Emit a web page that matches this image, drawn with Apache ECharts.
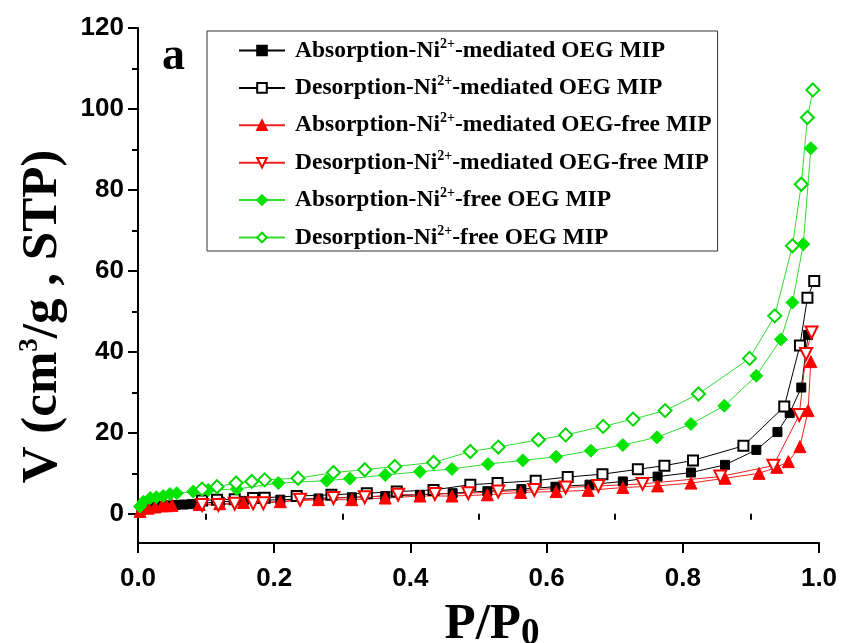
<!DOCTYPE html>
<html>
<head>
<meta charset="utf-8">
<script src="https://cdn.jsdelivr.net/npm/echarts@6/dist/echarts.min.js"></script>
<style>
  html, body { margin: 0; padding: 0; background: #fff; }
  #chart { width: 843px; height: 643px; }
</style>
</head>
<body>
<div id="chart"></div>
<script>
// series names (legend text), Ni2+ gets a superscript in the legend formatter
const seriesNames = [
  'Absorption-Ni2+-mediated OEG MIP',
  'Desorption-Ni2+-mediated OEG MIP',
  'Absorption-Ni2+-mediated OEG-free MIP',
  'Desorption-Ni2+-mediated OEG-free MIP',
  'Absorption-Ni2+-free OEG MIP',
  'Desorption-Ni2+-free OEG MIP'
];

// [P/P0, V]
const absMediatedOEG = [[0.005,1.0],[0.015,1.6],[0.025,1.9],[0.035,2.0],[0.045,2.1],[0.055,2.2],[0.067,2.3],[0.079,2.4],[0.12,3.0],[0.155,3.2],[0.209,3.5],[0.265,3.8],[0.314,4.1],[0.363,4.4],[0.414,4.7],[0.462,5.1],[0.513,5.6],[0.563,6.1],[0.613,6.7],[0.663,7.2],[0.712,8.0],[0.763,9.2],[0.812,10.2],[0.862,12.1],[0.908,15.8],[0.939,20.2],[0.957,24.9],[0.974,31.2],[0.984,44.2]];
const desMediatedOEG = [[0.094,3.3],[0.116,3.5],[0.142,3.6],[0.169,3.9],[0.186,4.0],[0.233,4.4],[0.284,4.7],[0.336,5.1],[0.380,5.5],[0.434,5.9],[0.488,7.2],[0.528,7.6],[0.584,8.2],[0.631,9.1],[0.682,9.8],[0.734,11.0],[0.773,11.9],[0.815,13.2],[0.889,16.8],[0.949,26.5],[0.972,41.6],[0.983,53.4],[0.993,57.5]];
const absMediatedFree = [[0.003,0.6],[0.015,1.4],[0.025,1.7],[0.035,2.0],[0.042,2.0],[0.05,2.1],[0.09,2.3],[0.12,2.5],[0.155,2.8],[0.209,3.0],[0.265,3.5],[0.314,3.5],[0.363,3.9],[0.414,4.4],[0.461,4.4],[0.513,4.7],[0.562,5.3],[0.614,5.5],[0.661,5.8],[0.712,6.5],[0.763,6.9],[0.812,7.6],[0.862,8.8],[0.912,10.0],[0.938,11.5],[0.955,12.9],[0.972,16.6],[0.984,25.5],[0.988,37.6]];
const desMediatedFree = [[0.094,2.2],[0.118,2.2],[0.142,2.5],[0.169,2.6],[0.184,2.6],[0.238,3.5],[0.287,3.9],[0.333,4.1],[0.382,4.7],[0.436,4.9],[0.485,5.1],[0.529,5.5],[0.582,5.9],[0.628,6.5],[0.676,6.9],[0.741,7.4],[0.855,9.2],[0.933,11.9],[0.971,24.4],[0.981,39.5],[0.989,44.8]];
const absFreeOEG = [[0.003,1.8],[0.008,3.0],[0.018,3.9],[0.027,4.1],[0.037,4.4],[0.047,4.9],[0.057,5.1],[0.081,5.5],[0.103,5.9],[0.145,6.1],[0.206,7.6],[0.277,8.2],[0.311,8.7],[0.363,9.6],[0.414,10.4],[0.461,11.1],[0.514,12.3],[0.565,13.2],[0.614,14.1],[0.665,15.6],[0.712,17.0],[0.762,18.9],[0.812,22.2],[0.861,26.7],[0.908,34.1],[0.944,43.1],[0.961,52.2],[0.977,66.6],[0.988,90.3]];
const desFreeOEG = [[0.094,6.1],[0.116,6.7],[0.144,7.6],[0.167,8.0],[0.186,8.4],[0.235,8.8],[0.287,10.2],[0.333,10.9],[0.377,11.7],[0.434,12.7],[0.488,15.4],[0.529,16.5],[0.588,18.3],[0.628,19.5],[0.683,21.6],[0.727,23.4],[0.774,25.5],[0.823,29.6],[0.898,38.4],[0.935,48.9],[0.961,66.2],[0.974,81.4],[0.983,97.9],[0.991,104.7]];

const yLabelValues = [0, 20, 40, 60, 80, 100, 120];
const yMinorValues = [10, 30, 50, 70, 90, 110];
const xMinorValues = [0.1, 0.3, 0.5, 0.7, 0.9];

const tickFont = "'Liberation Sans Narrow', 'Arial Narrow', 'Liberation Sans', Arial, sans-serif";
const serifFont = "'Liberation Serif', 'Times New Roman', serif";

function line(name, data, symbol, color, lineColor, size, rotate) {
  return {
    name: name,
    type: 'line',
    data: data,
    symbol: symbol,
    symbolSize: size,
    symbolRotate: rotate || 0,
    showAllSymbol: true,
    lineStyle: { color: lineColor, width: 1 },
    itemStyle: { color: color, borderColor: color, borderWidth: 1 },
    emphasis: { disabled: true }
  };
}

const chart = echarts.init(document.getElementById('chart'));
chart.setOption({
  animation: false,
  backgroundColor: '#fff',
  grid: { left: 138, right: 24, top: 28, bottom: 100, outerBoundsMode: 'none', containLabel: false },
  legend: {
    orient: 'vertical',
    left: 207,
    top: 31,
    padding: [6, 6, 0, 31],
    itemGap: 10.4,
    itemWidth: 46,
    itemHeight: 12,
    borderColor: '#333',
    borderWidth: 1,
    backgroundColor: '#fff',
    data: seriesNames,
    formatter: n => '{gap|}' + n.replace('Ni2+', 'Ni{sup|2+}'),
    textStyle: {
      fontFamily: serifFont,
      fontWeight: 'bold',
      fontSize: 23.5,
      color: '#000',
      lineHeight: 27,
      rich: {
        gap: { width: 5 },
        sup: { fontFamily: serifFont, fontWeight: 'bold', fontSize: 14, color: '#000', verticalAlign: 'top', lineHeight: 27 }
      }
    }
  },
  xAxis: [{
    type: 'value',
    min: 0, max: 1, interval: 0.2,
    name: 'P/P{sub|0}',
    nameLocation: 'middle',
    nameGap: 32,
    nameTextStyle: {
      fontFamily: serifFont, fontWeight: 'bold', fontSize: 51, color: '#000', lineHeight: 56,
      padding: [0, 0, 0, 27],
      rich: { sub: { fontFamily: serifFont, fontWeight: 'bold', fontSize: 37, color: '#000', verticalAlign: 'bottom', lineHeight: 20 } }
    },
    axisLine: { onZero: false, lineStyle: { color: '#000', width: 2 } },
    axisTick: { inside: false, length: 10, lineStyle: { color: '#000', width: 2 } },
    axisLabel: { formatter: v => v.toFixed(1), fontFamily: tickFont, fontWeight: 'bold', fontSize: 26, color: '#000', margin: 23 },
    splitLine: { show: false }
  }, {
    type: 'value', position: 'bottom', min: 0, max: 1,
    axisLine: { show: false },
    axisTick: { show: true, length: 6, customValues: xMinorValues, lineStyle: { color: '#000', width: 2 } },
    axisLabel: { show: false },
    splitLine: { show: false }
  }],
  yAxis: [{
    type: 'value',
    min: -7.2, max: 120,
    name: 'V (cm{sup|3}/g , STP)',
    nameLocation: 'middle',
    nameGap: 70,
    nameTextStyle: {
      fontFamily: serifFont, fontWeight: 'bold', fontSize: 51, color: '#000',
      padding: [0, 62, 0, 0],
      rich: { sup: { fontFamily: serifFont, fontWeight: 'bold', fontSize: 27, color: '#000', verticalAlign: 'top' } }
    },
    axisLine: { onZero: false, lineStyle: { color: '#000', width: 2 } },
    axisTick: { inside: false, length: 10, customValues: yLabelValues, lineStyle: { color: '#000', width: 2 } },
    axisLabel: { customValues: yLabelValues, fontFamily: tickFont, fontWeight: 'bold', fontSize: 26, color: '#000', margin: 14 },
    splitLine: { show: false }
  }, {
    type: 'value', position: 'left', min: -7.2, max: 120,
    axisLine: { show: false },
    axisTick: { show: true, length: 6, customValues: yMinorValues, lineStyle: { color: '#000', width: 2 } },
    axisLabel: { show: false },
    splitLine: { show: false }
  }],
  graphic: [{
    type: 'text', left: 162, top: 34,
    style: { text: 'a', fontFamily: serifFont, fontWeight: 'bold', fontSize: 46, fill: '#000' }
  }],
  series: [
    line(seriesNames[0], absMediatedOEG, 'rect', '#000', '#000', 9),
    line(seriesNames[1], desMediatedOEG, 'emptyRect', '#000', '#000', 10),
    line(seriesNames[2], absMediatedFree, 'triangle', '#ff0000', '#f02020', 12),
    line(seriesNames[3], desMediatedFree, 'emptyTriangle', '#ff0000', '#f02020', 12, 180),
    line(seriesNames[4], absFreeOEG, 'diamond', '#00e400', '#30dd30', 13),
    line(seriesNames[5], desFreeOEG, 'emptyDiamond', '#00d800', '#30dd30', 13)
  ]
});
</script>
</body>
</html>
